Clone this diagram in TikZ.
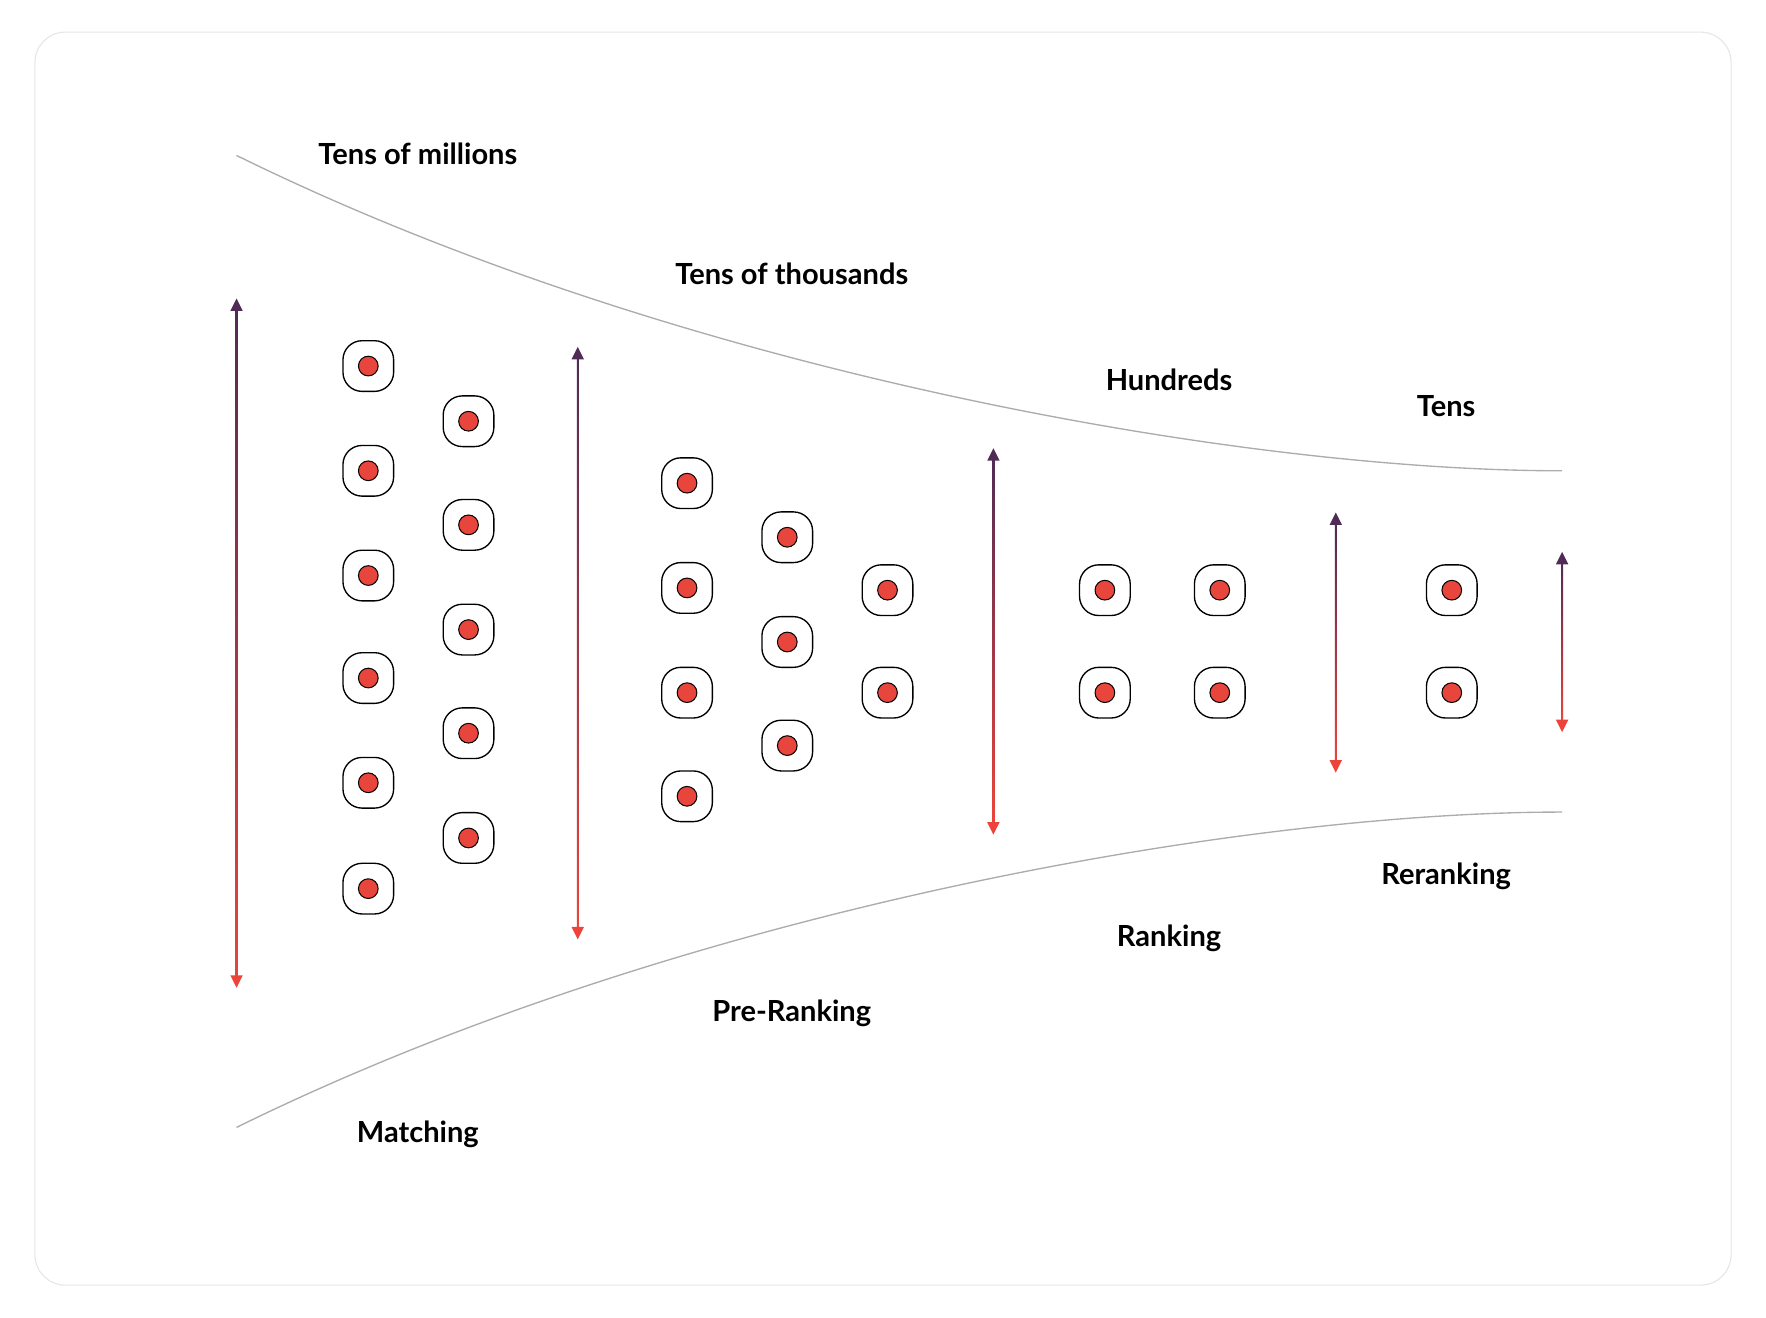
\documentclass[tikz,border=0pt]{standalone}
\usepackage{fontspec}
\setmainfont{Lato}
\usetikzlibrary{positioning,calc}
\definecolor{dotred}{RGB}{232,69,60}
\definecolor{arrowtop}{RGB}{80,43,85}
\definecolor{arrowbot}{RGB}{236,68,58}
\definecolor{funnelgray}{RGB}{172,172,172}
\definecolor{framegray}{RGB}{230,230,230}
\tikzstyle{item} = [draw=black, line width=1.2pt, rounded corners=17pt, minimum size=45pt, inner sep=0pt, fill=white]
\tikzstyle{dot} = [circle, draw=black, line width=0.9pt, fill=dotred, minimum size=17.5pt, inner sep=0pt]
\tikzstyle{stage} = [font=\fontsize{25.8}{28}\selectfont\bfseries, text=black, inner sep=0pt]
\tikzstyle{funnel} = [draw=funnelgray, line width=1.2pt]

\begin{document}
\begin{tikzpicture}[x=1pt, y=-1pt]
    \useasboundingbox (0,0) rectangle (1568,1170);
    \draw[framegray, line width=1pt, rounded corners=27pt] (31,28.5) rectangle (1537,1141);

    % funnel outline
    \coordinate (topL) at (210,138);
    \coordinate (topR) at (1387,418);
    \coordinate (botL) at (210,1001);
    \coordinate (botR) at (1387,721);
    \draw[funnel] (topL) .. controls (600,330) and (1100,418) .. (topR);
    \draw[funnel] (botL) .. controls (600,809) and (1100,721) .. (botR);

    % counts and stages
    \node[stage] (millions) at (371,137) {Tens of millions};
    \node[stage] (thousands) at (703,243) {Tens of thousands};
    \node[stage] (hundreds) at (1038,337) {Hundreds};
    \node[stage] (tens) at (1284,361) {Tens};
    \node[stage] (matching) at (371,1007) {Matching};
    \node[stage] (preranking) at (703,900) {Pre-Ranking};
    \node[stage] (ranking) at (1038,833) {Ranking};
    \node[stage] (reranking) at (1284,778) {Reranking};

    % items
    \foreach \col/\x/\ys in {ma/327/{325,418,511,602,695,789},
                            mb/416/{374,466,559,651,744},
                            pa/610/{429,522,615,707},
                            pb/699/{477,570,662},
                            pc/788/{524,615},
                            ra/981/{524,615},
                            rb/1083/{524,615},
                            re/1289/{524,615}}
    {
        \foreach \y [count=\k] in \ys
        {
            \node[item] (\col-\k) at (\x,\y) {};
            \node[dot] (\col-\k-dot) at (\col-\k) {};
        }
    }

    % size arrows
    \foreach \name/\x/\ya/\yb in {a1/210/265/877, a2/513/308/834, a3/882/398/741,
                                 a4/1186/455/686, a5/1387/490/650}
    {
        \coordinate (\name-top) at (\x,\ya);
        \coordinate (\name-bot) at (\x,\yb);
        \shade[top color=arrowtop, bottom color=arrowbot]
            ($(\name-top)+(-0.9,8)$) rectangle ($(\name-bot)+(0.9,-8)$);
        \fill[arrowtop] (\name-top) -- ++(-5.5,11) -- ++(11,0) -- cycle;
        \fill[arrowbot] (\name-bot) -- ++(-5.5,-11) -- ++(11,0) -- cycle;
    }
\end{tikzpicture}
\end{document}
